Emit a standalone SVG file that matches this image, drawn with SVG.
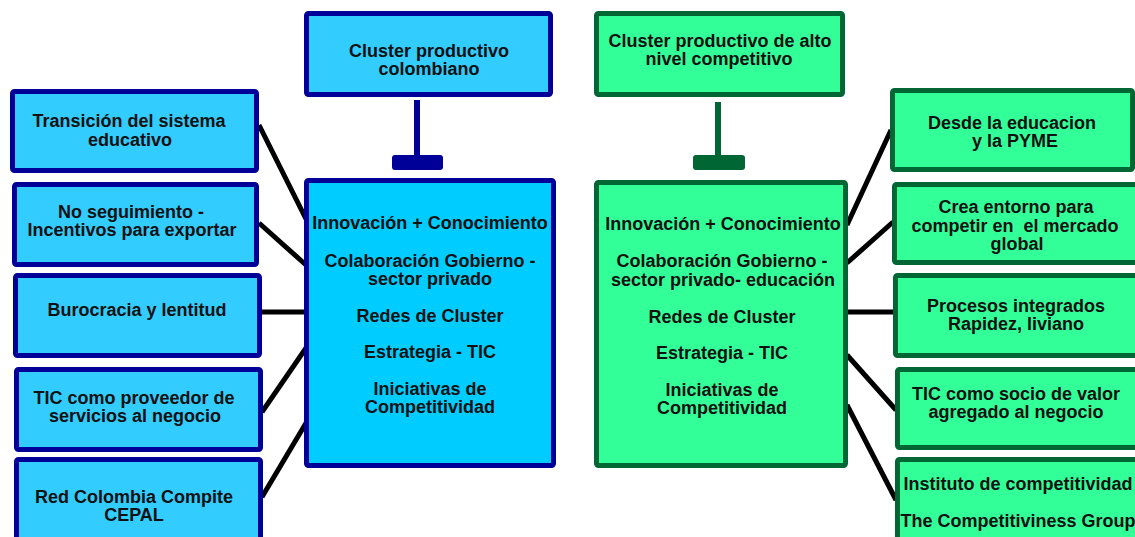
<svg xmlns="http://www.w3.org/2000/svg" width="1135" height="537" viewBox="0 0 1135 537">
<style>
text{font-family:"Liberation Sans",Arial,sans-serif;font-weight:bold;font-size:18px;fill:#111;text-anchor:middle}
.b{fill:#33CCFF;stroke:#000099;stroke-width:5}
.bc{fill:#00CCFF;stroke:#000099;stroke-width:5}
.g{fill:#33FF99;stroke:#006633;stroke-width:5}
.con line{stroke:#000;stroke-width:5}
.tb{fill:#000099}
.tg{fill:#006633}
</style>
<rect width="1135" height="537" fill="#fff"/>
<g id="connectors" class="con">
<line x1="259" y1="125" x2="306" y2="219"/>
<line x1="259" y1="223" x2="306" y2="265"/>
<line x1="261" y1="312" x2="306" y2="312"/>
<line x1="262" y1="412" x2="306" y2="348"/>
<line x1="262" y1="497" x2="306" y2="423"/>
<line x1="847" y1="225" x2="891" y2="130"/>
<line x1="847" y1="263" x2="893" y2="222"/>
<line x1="847" y1="312" x2="894" y2="312"/>
<line x1="847" y1="355" x2="896" y2="410"/>
<line x1="847" y1="405" x2="896" y2="500"/>
<rect class="tb" x="414" y="100" width="6" height="58"/>
<rect class="tb" x="392" y="155" width="51" height="15" rx="3"/>
<rect class="tg" x="715" y="102" width="6" height="56"/>
<rect class="tg" x="693" y="155" width="52" height="15" rx="3"/>
</g>
<g id="top-left">
<rect class="b" x="306.5" y="13.5" width="244" height="81" rx="2"/>
<text x="429" y="57">Cluster productivo</text>
<text x="429" y="75">colombiano</text>
</g>
<g id="center-left">
<rect class="bc" x="306.5" y="180.5" width="247" height="285" rx="2"/>
<text x="430" y="229">Innovación + Conocimiento</text>
<text x="430" y="267">Colaboración Gobierno -</text>
<text x="430" y="285">sector privado</text>
<text x="430" y="322">Redes de Cluster</text>
<text x="430" y="358">Estrategia - TIC</text>
<text x="430" y="395">Iniciativas de</text>
<text x="430" y="413">Competitividad</text>
</g>
<g id="l1">
<rect class="b" x="12.5" y="91.5" width="244" height="79" rx="2"/>
<text x="129" y="127">Transición del sistema</text>
<text x="130" y="146">educativo</text>
</g>
<g id="l2">
<rect class="b" x="14.5" y="184.5" width="242" height="80" rx="2"/>
<text x="131" y="218">No seguimiento -</text>
<text x="132" y="236">Incentivos para exportar</text>
</g>
<g id="l3">
<rect class="b" x="15.5" y="275.5" width="244" height="80" rx="2"/>
<text x="137" y="316">Burocracia y lentitud</text>
</g>
<g id="l4">
<rect class="b" x="16.5" y="369.5" width="244" height="80" rx="2"/>
<text x="134" y="404">TIC como proveedor de</text>
<text x="135" y="422">servicios al negocio</text>
</g>
<g id="l5">
<rect class="b" x="16.5" y="459.5" width="244" height="100" rx="2"/>
<text x="134" y="503">Red Colombia Compite</text>
<text x="134" y="521">CEPAL</text>
</g>
<g id="top-right">
<rect class="g" x="596.5" y="13.5" width="246" height="81" rx="2"/>
<text x="720" y="47">Cluster productivo de alto</text>
<text x="719" y="65">nivel competitivo</text>
</g>
<g id="center-right">
<rect class="g" x="596.5" y="182.5" width="249" height="283" rx="2"/>
<text x="723" y="230">Innovación + Conocimiento</text>
<text x="722" y="267">Colaboración Gobierno -</text>
<text x="723" y="286">sector privado- educación</text>
<text x="722" y="323">Redes de Cluster</text>
<text x="722" y="359">Estrategia - TIC</text>
<text x="722" y="396">Iniciativas de</text>
<text x="722" y="414">Competitividad</text>
</g>
<g id="r1">
<rect class="g" x="892.5" y="90.5" width="240" height="79" rx="2"/>
<text x="1012" y="129">Desde la educacion</text>
<text x="1015" y="147">y la PYME</text>
</g>
<g id="r2">
<rect class="g" x="894.5" y="184.5" width="260" height="78" rx="2"/>
<text x="1016" y="213">Crea entorno para</text>
<text x="1015" y="232" xml:space="preserve">competir en  el mercado</text>
<text x="1017" y="250">global</text>
</g>
<g id="r3">
<rect class="g" x="895.5" y="275.5" width="260" height="80" rx="2"/>
<text x="1016" y="312">Procesos integrados</text>
<text x="1016" y="330">Rapidez, liviano</text>
</g>
<g id="r4">
<rect class="g" x="897.5" y="369.5" width="260" height="78" rx="2"/>
<text x="1016" y="400">TIC como socio de valor</text>
<text x="1016" y="418">agregado al negocio</text>
</g>
<g id="r5">
<rect class="g" x="897.5" y="459.5" width="260" height="100" rx="2"/>
<text x="1018" y="490">Instituto de competitividad</text>
<text x="1018" y="527">The Competitiviness Group</text>
</g>
</svg>
